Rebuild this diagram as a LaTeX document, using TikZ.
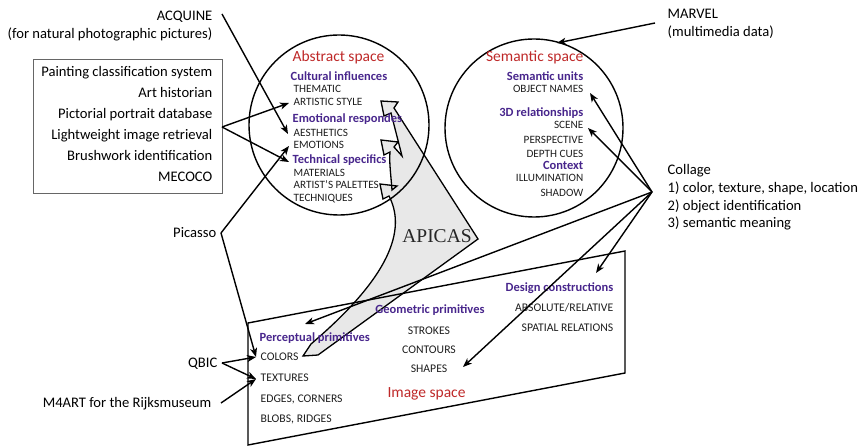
\documentclass[tikz,border=0pt]{standalone}
\usepackage{fontspec}
\setmainfont{Carlito}
\newfontfamily\apfont{Liberation Serif}
\usetikzlibrary{arrows.meta}
\definecolor{purp}{RGB}{72,38,140}
\definecolor{redt}{RGB}{190,40,40}
\definecolor{txt}{RGB}{30,30,30}
\definecolor{shade}{RGB}{232,232,232}
\begin{document}
\begin{tikzpicture}[x=1pt,y=-1pt,line width=1.4pt,
  arr/.style={-{Stealth[length=9pt,width=7pt,inset=2.5pt]}},
  lab/.style={font=\fontsize{14.6}{16}\selectfont,inner sep=0pt},
  head/.style={font=\fontsize{12.5}{14}\selectfont\bfseries,text=purp,inner sep=0pt},
  item/.style={font=\fontsize{11.2}{12}\selectfont,text=txt,inner sep=0pt},
  itemb/.style={font=\fontsize{11.7}{13}\selectfont,text=txt,inner sep=0pt},
  spacetitle/.style={font=\fontsize{15.5}{17}\selectfont,text=redt,inner sep=0pt}]
\useasboundingbox (0,0) rectangle (864,446);

% APICAS shape
\path[fill=shade,draw=black,line width=1.3pt,line join=miter]
  (381,101) -- (398,102) -- (394,108) -- (478,239) -- (318,355) -- (303,356) -- (311,344)
  .. controls (398,270) and (404,225) .. (389,196) -- (383,199) -- (380,184) -- (397,186)
  -- (392,190) .. controls (391,176) and (389,162) .. (390,152) -- (384,155) -- (381,140)
  -- (398,142) -- (394,147) -- (402,156) -- (391,113) -- (384,116) -- cycle;
\node[font=\apfont\fontsize{19.5}{21}\selectfont,text=black!85,inner sep=0pt,anchor=base] (apicas) at (437,243) {APICAS};

% spaces
\node[draw,circle,minimum size=180,inner sep=0pt] (abs) at (339,125) {};
\node[draw,circle,minimum size=178,inner sep=0pt] (sem) at (534,128) {};
\draw (248,323) -- (625,251) -- (625,373) -- (248,445) -- cycle;

% abstract space texts
\node[spacetitle,anchor=base] (absT) at (338.5,62) {Abstract space};
\node[head,anchor=base west] (cult) at (290,81) {Cultural influences};
\node[item,anchor=base west] (them) at (293,93) {THEMATIC};
\node[item,anchor=base west] (art) at (293,106) {ARTISTIC STYLE};
\node[head,anchor=base west] (emo) at (292,123) {Emotional respondes};
\node[item,anchor=base west] (aest) at (293,137) {AESTHETICS};
\node[item,anchor=base west] (emot) at (293,149) {EMOTIONS};
\node[head,anchor=base west] (tech) at (292,164) {Technical specifics};
\node[item,anchor=base west] (mat) at (293,177) {MATERIALS};
\node[item,anchor=base west] (pal) at (293,189) {ARTIST’S PALETTES};
\node[item,anchor=base west] (techn) at (293,202) {TECHNIQUES};

% semantic space texts
\node[spacetitle,anchor=base east] (semT) at (584,62) {Semantic space};
\node[head,anchor=base east] (sunits) at (584,81) {Semantic units};
\node[item,anchor=base east] (obj) at (584,93) {OBJECT NAMES};
\node[head,anchor=base east] (rel3d) at (584,117) {3D relationships};
\node[item,anchor=base east] (scene) at (584,129) {SCENE};
\node[item,anchor=base east] (persp) at (584,144) {PERSPECTIVE};
\node[item,anchor=base east] (depth) at (584,158) {DEPTH CUES};
\node[head,anchor=base east] (ctx) at (584,170) {Context};
\node[item,anchor=base east] (illum) at (584,182) {ILLUMINATION};
\node[item,anchor=base east] (shadow) at (584,197) {SHADOW};

% image space texts
\node[head,anchor=base west] (perc) at (259,341) {Perceptual primitives};
\node[itemb,anchor=base west] (colors) at (260,360) {COLORS};
\node[itemb,anchor=base west] (text) at (260,381) {TEXTURES};
\node[itemb,anchor=base west] (edges) at (260,402) {EDGES, CORNERS};
\node[itemb,anchor=base west] (blobs) at (260,422) {BLOBS, RIDGES};
\node[head,anchor=base] (geo) at (430,313) {Geometric primitives};
\node[itemb,anchor=base] (strokes) at (429,334) {STROKES};
\node[itemb,anchor=base] (cont) at (429,353) {CONTOURS};
\node[itemb,anchor=base] (shapes) at (429,372) {SHAPES};
\node[spacetitle,anchor=base] (imgT) at (426.5,397) {Image space};
\node[head,anchor=base east] (design) at (614,291) {Design constructions};
\node[itemb,anchor=base east] (absrel) at (614,311) {ABSOLUTE/RELATIVE};
\node[itemb,anchor=base east] (spat) at (614,331) {SPATIAL RELATIONS};

% left labels
\node[lab,anchor=base east] (acq) at (213,21) {ACQUINE};
\node[lab,anchor=base east] (acq2) at (213,39) {(for natural photographic pictures)};
\node[draw=black!60,line width=0.9pt,minimum width=189,minimum height=134,inner sep=0pt,anchor=north west] (box) at (33,59) {};
\node[lab,anchor=base east] (b1) at (213,77) {Painting classification system};
\node[lab,anchor=base east] (b2) at (213,98) {Art historian};
\node[lab,anchor=base east] (b3) at (213,119) {Pictorial portrait database};
\node[lab,anchor=base east] (b4) at (213,140) {Lightweight image retrieval};
\node[lab,anchor=base east] (b5) at (213,161) {Brushwork identification};
\node[lab,anchor=base east] (b6) at (213,182) {MECOCO};
\node[lab,anchor=base east] (pic) at (217,238) {Picasso};
\node[lab,anchor=base east] (qbic) at (218,367) {QBIC};
\node[lab,anchor=base east] (m4) at (212,407) {M4ART for the Rijksmuseum};

% right labels
\node[lab,anchor=base west] (marvel) at (667,19) {MARVEL};
\node[lab,anchor=base west] (marvel2) at (667,37) {(multimedia data)};
\node[lab,anchor=base west] (coll) at (667,175) {Collage};
\node[lab,anchor=base west] (c1) at (667,193) {1) color, texture, shape, location};
\node[lab,anchor=base west] (c2) at (667,211) {2) object identification};
\node[lab,anchor=base west] (c3) at (667,228) {3) semantic meaning};

% connector end points
\coordinate (acqS) at (222,14);
\coordinate (boxS) at (222,127);
\coordinate (picS) at (221,233);
\coordinate (qbicS) at (222,363);
\coordinate (m4S) at (221,403);
\coordinate (marS) at (655,23);
\coordinate (colS) at (652,192);
\coordinate (tArt) at (289,103);
\coordinate (tAest) at (288,134);
\coordinate (tEmot) at (289,146);
\coordinate (tTech) at (289,162);
\coordinate (tCol) at (256,357);
\coordinate (tTex) at (256,379);
\coordinate (tSem) at (557,43);
\coordinate (tObj) at (590,93);
\coordinate (tScene) at (588,128);
\coordinate (tPerc) at (305,324);
\coordinate (tShapes) at (463,367);
\coordinate (tDesign) at (596,273);

% connectors
\draw[arr] (acqS) -- (tAest);
\draw[arr] (boxS) -- (tArt);
\draw[arr] (boxS) -- (tTech);
\draw[arr] (picS) -- (tEmot);
\draw[arr] (picS) -- (tCol);
\draw[arr] (qbicS) -- (tCol);
\draw[arr] (qbicS) -- (tTex);
\draw[arr] (m4S) -- (tTex);
\draw[arr] (marS) -- (tSem);
\draw[arr] (colS) -- (tObj);
\draw[arr] (colS) -- (tScene);
\draw[arr] (colS) -- (tPerc);
\draw[arr] (colS) -- (tShapes);
\draw[arr] (colS) -- (tDesign);
\end{tikzpicture}
\end{document}
